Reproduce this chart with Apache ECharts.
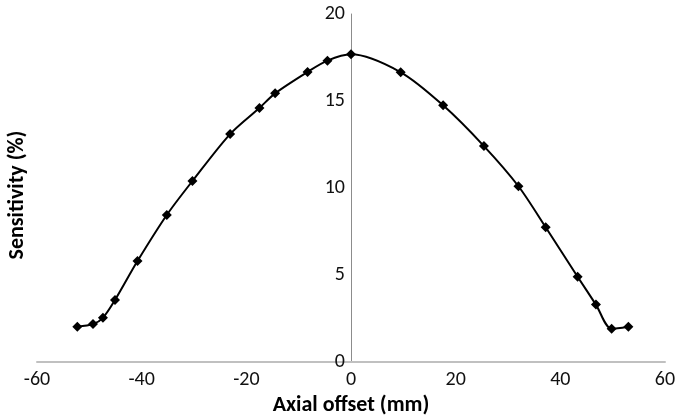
<!DOCTYPE html>
<html><head><meta charset="utf-8">
<script src="https://cdn.jsdelivr.net/npm/echarts@6/dist/echarts.min.js"></script>
<style>html,body{margin:0;padding:0;background:#fff}#c{width:681px;height:417px}</style>
</head><body><div id="c"></div>
<script>
const offsets = [-52.3,-49.3,-47.4,-45.1,-40.8,-35.2,-30.3,-23.1,-17.5,-14.5,-8.3,-4.5,0,9.5,17.6,25.4,32.0,37.2,43.3,46.8,49.8,53.0];
const sensitivity = [2.03,2.18,2.54,3.56,5.8,8.45,10.4,13.1,14.6,15.44,16.67,17.32,17.68,16.65,14.75,12.41,10.1,7.74,4.9,3.3,1.91,2.03];
const xTitle = 'Axial offset (mm)';
const yTitle = 'Sensitivity (%)';
const font = 'Carlito, Lato, sans-serif';
const chart = echarts.init(document.getElementById('c'), null, {renderer:'canvas'});
const gridLeft = 37, gridRight = 16;
const plotW = 681 - gridLeft - gridRight;
chart.setOption({
  animation:false,
  grid:{left:gridLeft,right:gridRight,top:14,bottom:55,containLabel:false,outerBoundsMode:'none'},
  xAxis:{type:'value',min:-60,max:60,interval:20,
    name:xTitle,nameLocation:'middle',nameGap:28,
    nameTextStyle:{fontFamily:font,fontSize:22,fontWeight:'bold',color:'#000'},
    axisLine:{onZero:false,lineStyle:{color:'#c0c0c0',width:2}},
    axisTick:{show:false},splitLine:{show:false},
    axisLabel:{fontFamily:font,fontSize:20,color:'#111',margin:8}},
  yAxis:{type:'value',min:0,max:20,interval:5,position:'left',offset:-plotW/2,
    axisLine:{show:true,onZero:false,lineStyle:{color:'#8c8c8c',width:1}},
    axisTick:{show:false},splitLine:{show:false},
    axisLabel:{fontFamily:font,fontSize:20,color:'#111',margin:6}},
  graphic:[{type:'text',x:17,y:195,rotation:Math.PI/2,
    style:{text:yTitle,font:'bold 22px '+font,fill:'#000',align:'center',verticalAlign:'middle'}}],
  series:[{type:'line',data:offsets.map((x,i)=>[x,sensitivity[i]]),
    smooth:0.3,symbol:'diamond',symbolSize:10,showSymbol:true,z:5,
    lineStyle:{color:'#000',width:2},itemStyle:{color:'#000'}}]
});
</script></body></html>
